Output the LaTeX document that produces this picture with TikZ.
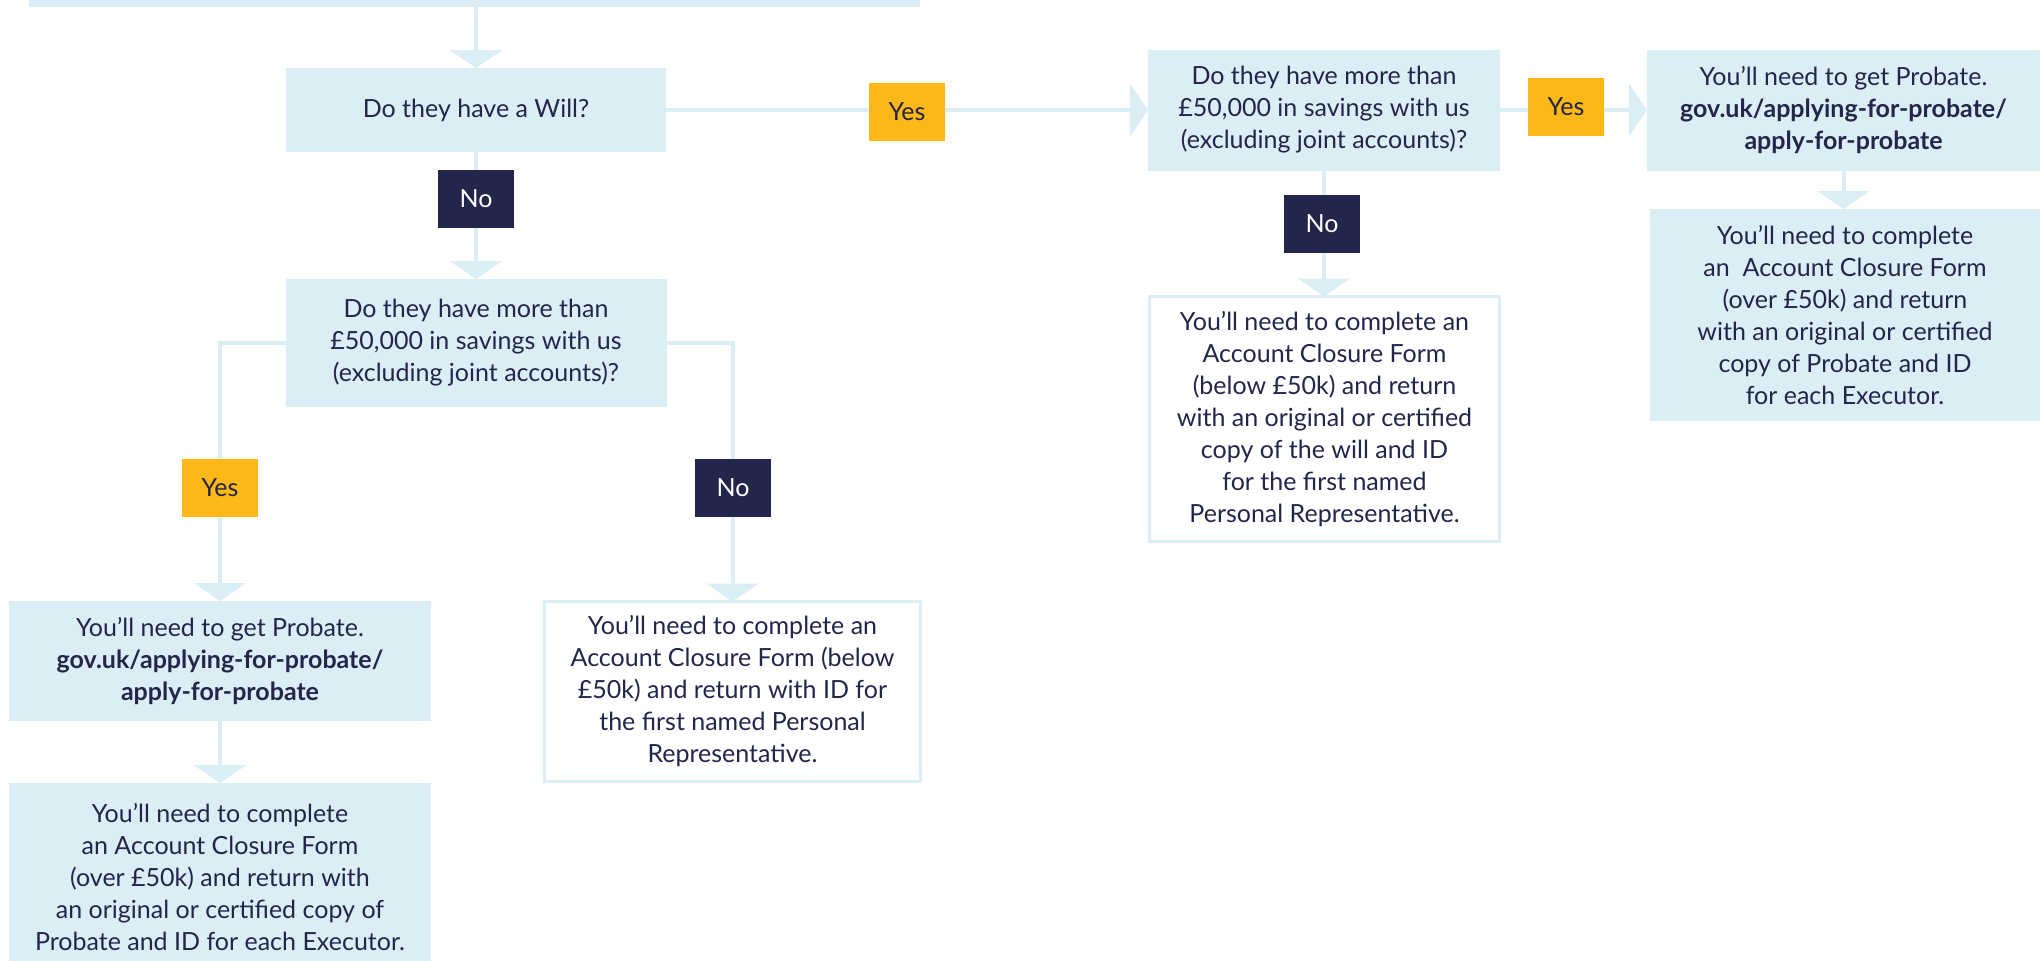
\documentclass[tikz,border=0pt]{standalone}
\usepackage{fontspec}
\setmainfont{Lato}
\usetikzlibrary{arrows.meta}
\definecolor{lb}{HTML}{DBEDF5}
\definecolor{navy}{HTML}{23254A}
\definecolor{amber}{HTML}{FCB817}
\begin{document}
\begin{tikzpicture}[x=1pt,y=-1pt,
  every node/.style={font=\fontsize{25}{32}\selectfont, text=navy, outer sep=0pt, inner sep=0pt},
  fillbox/.style={fill=lb, align=center},
  linebox/.style={fill=white, draw=lb, line width=3pt, align=center},
  yeslab/.style={fill=amber, minimum width=76pt, minimum height=58pt},
  nolab/.style={fill=navy, text=white, minimum width=76pt, minimum height=58pt},
  conn/.style={draw=lb, line width=4pt, -{Triangle[width=52pt,length=18pt]}}
]
\useasboundingbox (0,0) rectangle (2040,961);
\clip (0,0) rectangle (2040,961);

\node[fillbox, minimum width=891pt, minimum height=40pt] (top) at (474.5,-13) {};
\node[fillbox, minimum width=380pt, minimum height=84pt] (will) at (476,110) {Do they have a Will?};
\node[fillbox, minimum width=381pt, minimum height=128pt] (q1) at (476,343) {Do they have more than\\£50,000 in savings with us\\(excluding joint accounts)?};
\node[fillbox, minimum width=352pt, minimum height=121pt] (q2) at (1324,110) {Do they have more than\\£50,000 in savings with us\\(excluding joint accounts)?};
\node[fillbox, minimum width=393pt, minimum height=121pt] (probTR) at (1843.5,110) {You’ll need to get Probate.\\\textbf{gov.uk/applying-for-probate/}\\\textbf{apply-for-probate}};
\node[fillbox, minimum width=390pt, minimum height=212pt] (closeTR) at (1845,315) {You’ll need to complete\\an\ \ Account Closure Form\\(over £50k) and return\\with an original or certified\\copy of Probate and ID\\for each Executor.};
\node[linebox, minimum width=350pt, minimum height=245pt] (willTxt) at (1324.5,419) {You’ll need to complete an\\Account Closure Form\\(below £50k) and return\\with an original or certified\\copy of the will and ID\\for the first named\\Personal Representative.};
\node[fillbox, minimum width=422pt, minimum height=120pt] (probL) at (220,661) {You’ll need to get Probate.\\\textbf{gov.uk/applying-for-probate/}\\\textbf{apply-for-probate}};
\node[fillbox, minimum width=422pt, minimum height=188pt] (closeL) at (220,877) {You’ll need to complete\\an Account Closure Form\\(over £50k) and return with\\an original or certified copy of\\Probate and ID for each Executor.};
\node[linebox, minimum width=376pt, minimum height=180pt] (noTxt) at (732.5,691.5) {You’ll need to complete an\\Account Closure Form (below\\£50k) and return with ID for\\the first named Personal\\Representative.};

\draw[conn] (top.south -| will.north) -- (will.north);
\draw[conn] (will.east) -- (q2.west);
\draw[conn] (q2.east) -- (probTR.west);
\draw[conn] (probTR.south) -- (probTR.south |- closeTR.north);
\draw[conn] (will.south) -- (q1.north);
\draw[conn] (q2.south) -- (q2.south |- willTxt.north);
\draw[conn] (q1.west) -| (probL.north);
\draw[conn] (q1.east) -| (noTxt.north);
\draw[conn] (probL.south) -- (closeL.north);

\node[yeslab] (yesW) at (907,112) {Yes};
\node[yeslab] (yes2) at (1566,107) {Yes};
\node[nolab] (noW) at (476,199) {No};
\node[nolab] (no2) at (1322,223.5) {No};
\node[yeslab] (yesL) at (220,488) {Yes};
\node[nolab] (noL) at (733,488) {No};
\end{tikzpicture}
\end{document}
